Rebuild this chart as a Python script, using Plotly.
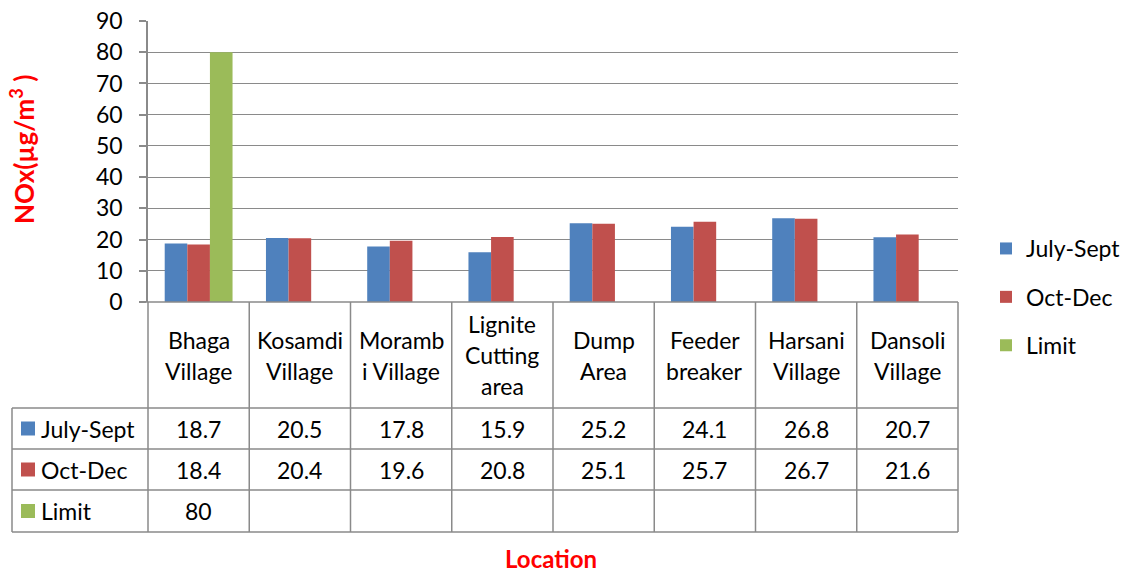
import plotly.graph_objects as go

categories = ["Bhaga\nVillage", "Kosamdi\nVillage", "Moramb\ni Village", "Lignite\nCutting\narea",
              "Dump\nArea", "Feeder\nbreaker", "Harsani\nVillage", "Dansoli\nVillage"]
july_sept = [18.7, 20.5, 17.8, 15.9, 25.2, 24.1, 26.8, 20.7]
oct_dec = [18.4, 20.4, 19.6, 20.8, 25.1, 25.7, 26.7, 21.6]
limit = [80, None, None, None, None, None, None, None]
series_names = ["July-Sept", "Oct-Dec", "Limit"]
series_colors = ["#4F81BD", "#C0504D", "#9BBB59"]
y_ticks = [0, 10, 20, 30, 40, 50, 60, 70, 80, 90]

FONT = "Lato"
FS = 23
GRAY = "#8a8a8a"
W_FIG, H_FIG = 1128, 573
L, R, T, B = 148, 958, 21, 302
PW, PH = R - L, B - T


def px(x):
    return (x - L) / PW


def py(y):
    return (B - y) / PH


n = len(categories)
xs = list(range(n))
fig = go.Figure()
for name, vals, col in zip(series_names, [july_sept, oct_dec, limit], series_colors):
    fig.add_trace(go.Bar(x=xs, y=vals, name=name, marker=dict(color=col, line=dict(width=0)),
                         legendgroup=name))

shapes = []
annotations = []
cell_w = PW / n
bounds = [L + i * cell_w for i in range(n + 1)]
row_lines = [408, 449, 490, 532]

# horizontal table lines
shapes.append(dict(type="line", xref="paper", yref="paper", x0=px(141), x1=px(R), y0=py(B), y1=py(B),
                   line=dict(color=GRAY, width=1.5)))
for yl in row_lines:
    shapes.append(dict(type="line", xref="paper", yref="paper", x0=px(12), x1=px(R), y0=py(yl), y1=py(yl),
                       line=dict(color=GRAY, width=1.5)))
# vertical table lines
for xb in bounds:
    shapes.append(dict(type="line", xref="paper", yref="paper", x0=px(xb), x1=px(xb), y0=py(B), y1=py(532),
                       line=dict(color=GRAY, width=1.5)))
shapes.append(dict(type="line", xref="paper", yref="paper", x0=px(12), x1=px(12), y0=py(408), y1=py(532),
                   line=dict(color=GRAY, width=1.5)))

# header labels
header_center = 355
line_h = 31
for i, lab in enumerate(categories):
    lines = lab.split("\n")
    cx = (bounds[i] + bounds[i + 1]) / 2
    start = header_center - line_h * (len(lines) - 1) / 2
    for k, ln in enumerate(lines):
        annotations.append(dict(x=px(cx), y=py(start + k * line_h), xref="paper", yref="paper", text=ln,
                                showarrow=False, xanchor="center", yanchor="middle",
                                font=dict(family=FONT, size=FS, color="black")))

# data rows
row_centers = [(row_lines[j] + row_lines[j + 1]) / 2 for j in range(3)]
for j, (name, vals, col) in enumerate(zip(series_names, [july_sept, oct_dec, limit], series_colors)):
    cy = row_centers[j]
    shapes.append(dict(type="rect", xref="paper", yref="paper", x0=px(21), x1=px(35), y0=py(cy - 7), y1=py(cy + 7),
                       fillcolor=col, line=dict(width=0)))
    annotations.append(dict(x=px(39), y=py(cy), xref="paper", yref="paper", text=name, showarrow=False,
                            xanchor="left", yanchor="middle", font=dict(family=FONT, size=FS, color="black")))
    for i, v in enumerate(vals):
        if v is None:
            continue
        cx = (bounds[i] + bounds[i + 1]) / 2
        annotations.append(dict(x=px(cx), y=py(cy), xref="paper", yref="paper", text=f"{v:g}", showarrow=False,
                                xanchor="center", yanchor="middle", font=dict(family=FONT, size=FS, color="black")))

# axis titles
annotations.append(dict(x=px(22), y=py(150), xref="paper", yref="paper", text="<b>NOx(µg/m<sup>3</sup> )</b>",
                        textangle=-90, showarrow=False, xanchor="center", yanchor="middle",
                        font=dict(family=FONT, size=26, color="#FF0000")))
annotations.append(dict(x=px(551), y=py(558), xref="paper", yref="paper", text="<b>Location</b>",
                        showarrow=False, xanchor="center", yanchor="middle",
                        font=dict(family=FONT, size=24, color="#FF0000")))

fig.update_layout(
    width=W_FIG, height=H_FIG,
    margin=dict(l=L, r=W_FIG - R, t=T, b=H_FIG - B, pad=0, autoexpand=False),
    paper_bgcolor="white", plot_bgcolor="white",
    barmode="group", bargap=0.33, bargroupgap=0,
    shapes=shapes, annotations=annotations,
    font=dict(family=FONT, size=FS, color="black"),
    legend=dict(x=px(986), y=py(227), xanchor="left", yanchor="top", tracegroupgap=15.5,
                font=dict(family=FONT, size=FS, color="black"), bgcolor="rgba(0,0,0,0)"),
    xaxis=dict(range=[-0.5, n - 0.5], showticklabels=False, showgrid=False, zeroline=False,
               showline=False, ticks="", fixedrange=True, automargin=False),
    yaxis=dict(range=[0, 90], tickvals=y_ticks, showgrid=True, gridcolor=GRAY, gridwidth=1.3,
               zeroline=False, showline=True, linecolor=GRAY, linewidth=1.5, ticks="outside",
               ticklen=7, tickcolor=GRAY, tickwidth=1.5, ticklabelstandoff=12, automargin=False,
               tickfont=dict(family=FONT, size=FS, color="black")),
)

fig.write_html("out.html", config={"displayModeBar": False},
               post_script="document.body.style.margin='0';document.body.style.padding='0';")
